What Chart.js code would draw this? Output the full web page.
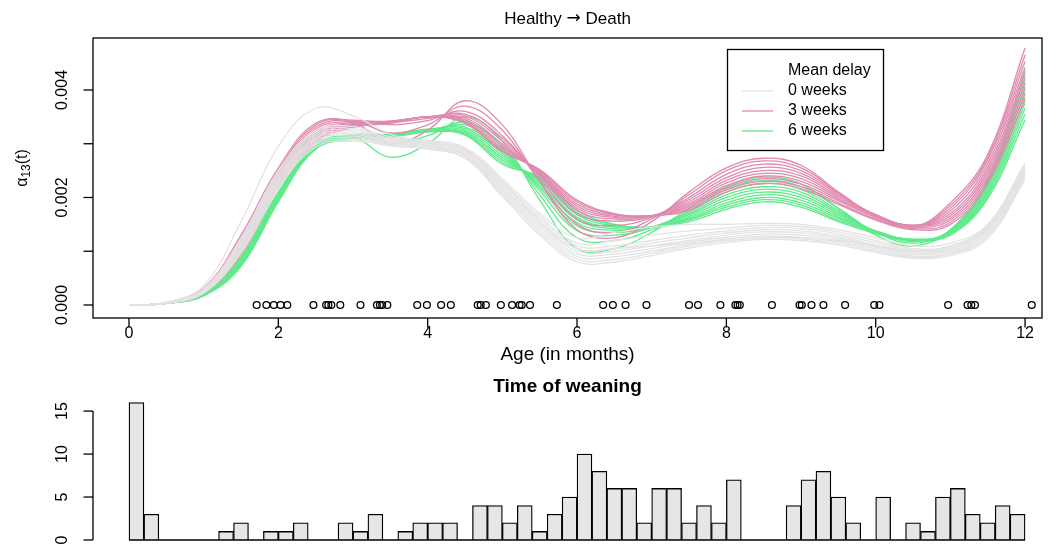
<!DOCTYPE html>
<html>
<head>
<meta charset="utf-8">
<script src="https://cdn.jsdelivr.net/npm/chart.js@4"></script>
<style>
  html, body { margin: 0; padding: 0; background: #fff; }
  #wrap { position: relative; width: 1057px; height: 547px; }
  canvas { position: absolute; left: 0; }
  #top { top: 0; }
  #hist { top: 365px; }
</style>
</head>
<body>
<div id="wrap">
  <canvas id="top" width="1057" height="365"></canvas>
  <canvas id="hist" width="1057" height="182"></canvas>
</div>
<script>
// hazard curves, values in units of 1e-4, read at these ages (months)
const ages = [0, 0.5, 1, 1.5, 2, 2.5, 3, 3.5, 4, 4.5, 5, 5.5, 6, 6.5, 7, 7.5, 8, 8.5, 9, 9.5, 10, 10.5, 11, 11.5, 12];

const delay0 = [
  [0, 0.5, 3.6, 15.5, 29.5, 36.6, 35.2, 31.8, 30.2, 28.8, 23, 15.5, 10.5, 10.5, 11, 11.5, 12, 12.5, 12.5, 12, 11, 10, 10.5, 14, 25],
  [0, 0.4, 3.0, 12.5, 25, 32.5, 33.2, 31.3, 30.6, 29.3, 23.5, 17, 12.5, 13.5, 14.5, 15, 15, 15.2, 15, 14, 12.5, 11, 11.5, 15, 26.4],
  [0, 0.4, 2.9, 12.2, 24.5, 32.2, 32.8, 31, 30.4, 29, 23, 16.5, 11.5, 12, 13, 13.8, 14.3, 14.8, 14.6, 13.6, 12, 10.5, 11, 14.8, 26.2],
  [0, 0.4, 2.8, 11.8, 24, 31.8, 32.4, 30.8, 30.2, 28.8, 22.6, 16, 11, 11, 12, 13, 13.8, 14.4, 14.2, 13.2, 11.6, 10.2, 10.8, 14.5, 25.8],
  [0, 0.4, 2.7, 11.5, 23.6, 31.4, 32, 30.6, 30, 28.6, 22.2, 15.5, 10.5, 10.5, 11.5, 12.5, 13.4, 14, 13.8, 12.8, 11.2, 10, 10.5, 14.2, 25.4],
  [0, 0.4, 2.6, 11.2, 23.2, 31, 31.7, 30.4, 29.8, 28.3, 21.8, 15, 10, 10, 11, 12, 13, 13.6, 13.4, 12.5, 11, 9.7, 10.3, 14, 25],
  [0, 0.3, 2.5, 10.8, 22.8, 30.6, 31.4, 30.2, 29.6, 28, 21.4, 14.5, 9.5, 9.5, 10.5, 11.7, 12.6, 13.2, 13, 12.2, 10.7, 9.4, 10, 13.6, 24.6],
  [0, 0.3, 2.4, 10.4, 22.4, 30.2, 31.1, 30, 29.4, 27.8, 21, 14, 9, 9, 10, 11.3, 12.3, 12.8, 12.6, 11.8, 10.4, 9.1, 9.7, 13.2, 24.2],
  [0, 0.3, 2.3, 10, 22, 29.8, 30.8, 29.8, 29.2, 27.5, 20.6, 13.5, 8.5, 8.5, 9.6, 11, 12, 12.5, 12.3, 11.5, 10.1, 8.9, 9.5, 12.8, 23.8],
  [0, 0.3, 2.2, 9.6, 21.6, 29.4, 30.5, 29.6, 29, 27.3, 20.2, 13, 8, 8, 9.2, 10.6, 11.6, 12.2, 12, 11.2, 9.8, 8.7, 9.2, 12.4, 23.3]
];

const delay3 = [
  [0, 0.4, 3.1, 13, 25.5, 33.8, 34, 30, 32.5, 38, 33.5, 23, 14, 12.5, 15.5, 21, 25.5, 27.3, 26, 21, 16.5, 14.5, 19, 28, 47.8],
  [0, 0.4, 3.0, 12.6, 25, 33.5, 34.3, 32, 33.5, 37, 32.5, 23, 15, 13.5, 16, 20.5, 25, 26.8, 25.5, 21, 16.5, 14.5, 18.5, 27.5, 46.5],
  [0, 0.4, 2.9, 12.2, 24.6, 33.1, 34.4, 33.5, 34.3, 36, 31.5, 23.5, 16, 14.8, 16.3, 20, 24.3, 26.2, 25, 20.8, 16.7, 14.7, 18, 27, 45.3],
  [0, 0.4, 2.8, 11.8, 24.2, 32.7, 34.2, 34, 34.7, 35.5, 31, 24, 17, 15.6, 16.5, 19.6, 23.7, 25.6, 24.5, 20.6, 16.8, 14.8, 17.5, 26.3, 44.2],
  [0, 0.4, 2.7, 11.4, 23.8, 32.3, 34, 34.2, 35, 35.2, 30.5, 24.2, 17.6, 16, 16.6, 19.2, 23.2, 25, 24, 20.3, 16.8, 14.8, 17, 25.6, 43.2],
  [0, 0.4, 2.6, 11, 23.4, 31.9, 33.8, 34.2, 35, 34.8, 30, 24.4, 18, 16.3, 16.6, 18.8, 22.7, 24.5, 23.5, 20, 16.7, 14.8, 16.6, 25, 42.2],
  [0, 0.4, 2.5, 10.6, 23, 31.5, 33.6, 34.1, 35, 34.5, 29.6, 24.6, 18.4, 16.5, 16.6, 18.5, 22.2, 24, 23, 19.7, 16.5, 14.7, 16.2, 24.4, 41.2],
  [0, 0.3, 2.4, 10.2, 22.6, 31.1, 33.4, 34, 35, 34.2, 29.2, 24.8, 18.8, 16.7, 16.6, 18.2, 21.8, 23.5, 22.5, 19.4, 16.3, 14.5, 15.8, 23.8, 40.2],
  [0, 0.3, 2.3, 9.8, 22.2, 30.7, 33.2, 33.9, 35, 34, 28.8, 25, 19.2, 16.9, 16.6, 17.9, 21.4, 23, 22, 19, 16, 14.2, 15.4, 23.2, 39.2],
  [0, 0.3, 2.2, 9.4, 21.8, 30.3, 33, 33.8, 35, 33.8, 28.5, 25.2, 19.5, 17, 16.6, 17.6, 21, 22.6, 21.6, 18.7, 15.8, 14, 15, 22.6, 38.2]
];

const delay6 = [
  [0, 0.3, 2.2, 9, 21, 29.8, 31.2, 27.5, 30, 35, 30.5, 19.5, 10.5, 10.5, 13.5, 18, 22, 23.8, 22.5, 18, 13, 11, 14, 23.5, 43.7],
  [0, 0.3, 2.1, 8.8, 20.8, 29.8, 31.6, 30, 31.5, 34, 29.5, 20.5, 12.5, 12, 14, 17.5, 21.5, 23.2, 22, 18, 13.5, 11.5, 14, 23, 42.6],
  [0, 0.3, 2.1, 8.6, 20.6, 29.7, 31.7, 31.4, 32.3, 33.5, 29, 21.3, 13.8, 13, 14.4, 17.3, 21, 22.6, 21.5, 17.6, 13.6, 11.8, 13.9, 22.6, 41.6],
  [0, 0.3, 2.0, 8.4, 20.4, 29.6, 31.6, 31.7, 32.6, 33.1, 28.6, 21.8, 14.7, 13.5, 14.5, 17, 20.5, 22, 21, 17.3, 13.7, 12, 13.8, 22.2, 40.6],
  [0, 0.3, 2.0, 8.2, 20.2, 29.5, 31.5, 31.8, 32.7, 32.8, 28.2, 22.2, 15.3, 13.9, 14.5, 16.8, 20, 21.5, 20.5, 17, 13.8, 12.1, 13.7, 21.8, 39.6],
  [0, 0.3, 1.9, 8, 20, 29.4, 31.4, 31.7, 32.6, 32.5, 27.8, 22.6, 15.8, 14.2, 14.5, 16.5, 19.5, 21, 20, 16.7, 13.8, 12.2, 13.6, 21.4, 38.6],
  [0, 0.3, 1.9, 7.8, 19.8, 29.3, 31.3, 31.6, 32.5, 32.2, 27.4, 23, 16.3, 14.5, 14.5, 16.2, 19, 20.5, 19.5, 16.4, 13.7, 12.2, 13.5, 21, 37.6],
  [0, 0.3, 1.8, 7.6, 19.6, 29.2, 31.2, 31.5, 32.4, 32, 27, 23.3, 16.8, 14.7, 14.5, 16, 18.6, 20, 19, 16.1, 13.6, 12.2, 13.4, 20.6, 36.6],
  [0, 0.3, 1.8, 7.4, 19.4, 29.1, 31, 31.4, 32.3, 31.8, 26.6, 23.6, 17.2, 14.9, 14.5, 15.8, 18.2, 19.6, 18.6, 15.8, 13.5, 12.1, 13.2, 20.2, 35.5],
  [0, 0.3, 1.7, 7.2, 19.2, 29, 30.8, 31.2, 32.2, 31.6, 26.2, 23.8, 17.6, 15, 14.5, 15.5, 17.8, 19.2, 18.2, 15.5, 13.3, 12, 13, 19.8, 34.4]
];

// observed death ages (open circles on the baseline)
const deathAges = [1.71, 1.84, 1.94, 2.03, 2.12, 2.47, 2.64, 2.67, 2.71, 2.83, 3.10, 3.32, 3.36, 3.39, 3.46,
  3.86, 3.99, 4.18, 4.31, 4.67, 4.71, 4.78, 4.98, 5.13, 5.23, 5.26, 5.37, 5.73, 6.35, 6.48, 6.65, 6.93,
  7.50, 7.62, 7.92, 8.12, 8.15, 8.18, 8.61, 8.98, 9.01, 9.14, 9.30, 9.59, 9.98, 10.05, 10.97, 11.23, 11.28, 11.33, 12.09];

// weaning histogram, bins of 0.2 months
const binMids = [0.1, 0.3, 0.5, 0.7, 0.9, 1.1, 1.3, 1.5, 1.7, 1.9, 2.1, 2.3, 2.5, 2.7, 2.9, 3.1, 3.3, 3.5, 3.7, 3.9,
  4.1, 4.3, 4.5, 4.7, 4.9, 5.1, 5.3, 5.5, 5.7, 5.9, 6.1, 6.3, 6.5, 6.7, 6.9, 7.1, 7.3, 7.5, 7.7, 7.9,
  8.1, 8.3, 8.5, 8.7, 8.9, 9.1, 9.3, 9.5, 9.7, 9.9, 10.1, 10.3, 10.5, 10.7, 10.9, 11.1, 11.3, 11.5, 11.7, 11.9];
const weanCounts = [16, 3, 0, 0, 0, 0, 1, 2, 0, 1, 1, 2, 0, 0, 2, 1, 3, 0, 1, 2, 2, 2, 0, 4, 4, 2, 4, 1, 3, 5,
  10, 8, 6, 6, 2, 6, 6, 2, 4, 2, 7, 0, 0, 0, 4, 7, 8, 5, 2, 0, 5, 0, 2, 1, 5, 6, 3, 2, 4, 3];

const xTicks = [0, 2, 4, 6, 8, 10, 12];
const xTickLabels = ['0', '2', '4', '6', '8', '10', '12'];
const yTicks = [0, 10, 20, 30, 40];
const yTickLabels = ['0.000', '', '0.002', '', '0.004'];
const histTicks = [0, 5, 10, 15];
const histTickLabels = ['0', '5', '10', '15'];
const legendLabels = ['0 weeks', '3 weeks', '6 weeks'];

const FONT = '"Liberation Sans", Arial, Helvetica, sans-serif';
const colors = ['#E3E3E3', '#DF8AAF', '#60EA8B'];

function xy(xs, ys) { return ys.map((v, i) => ({ x: xs[i], y: v })); }
function seg(ctx, x1, y1, x2, y2) { ctx.beginPath(); ctx.moveTo(x1, y1); ctx.lineTo(x2, y2); ctx.stroke(); }
function vText(ctx, s, x, y) { ctx.save(); ctx.translate(x, y); ctx.rotate(-Math.PI / 2); ctx.fillText(s, 0, 0); ctx.restore(); }

// draw a run of [text, font] pieces centred on cx
function runText(ctx, parts, cx, cy) {
  let w = 0;
  parts.forEach(p => { ctx.font = p[1]; w += ctx.measureText(p[0]).width; });
  let x0 = cx - w / 2;
  ctx.textAlign = 'left';
  parts.forEach(p => { ctx.font = p[1]; ctx.fillText(p[0], x0, cy); x0 += ctx.measureText(p[0]).width; });
  ctx.textAlign = 'center';
}

const lineSets = [];
[delay0, delay3, delay6].forEach((group, g) => {
  group.forEach(c => lineSets.push({
    type: 'line', data: xy(ages, c), borderColor: colors[g], borderWidth: 1.3,
    pointRadius: 0, tension: 0.4, fill: false
  }));
});
lineSets.push({
  type: 'scatter', data: deathAges.map(t => ({ x: t, y: 0 })), showLine: false,
  pointRadius: 3.4, borderWidth: 1.3, borderColor: '#000', backgroundColor: 'rgba(0,0,0,0)'
});

const topFrame = {
  id: 'topFrame',
  afterDraw(chart) {
    const { ctx, chartArea: a, scales: { x, y } } = chart;
    ctx.save();
    ctx.strokeStyle = '#000'; ctx.fillStyle = '#000'; ctx.lineWidth = 1.3;
    ctx.strokeRect(a.left, a.top, a.right - a.left, a.bottom - a.top);
    ctx.font = '16px ' + FONT;
    ctx.textAlign = 'center'; ctx.textBaseline = 'middle';
    xTicks.forEach((v, i) => {
      const px = x.getPixelForValue(v);
      seg(ctx, px, a.bottom, px, a.bottom + 9.5);
      ctx.fillText(xTickLabels[i], px, a.bottom + 16);
    });
    yTicks.forEach((v, i) => {
      const py = y.getPixelForValue(v);
      seg(ctx, a.left, py, a.left - 9.5, py);
      if (yTickLabels[i]) vText(ctx, yTickLabels[i], 63, py);
    });
    // titles
    const cx = (a.left + a.right) / 2;
    runText(ctx, [['Healthy ', '17px ' + FONT], ['\u2192', '17px "DejaVu Sans", sans-serif'], [' Death', '17px ' + FONT]], cx, 19);
    ctx.font = '19px ' + FONT;
    ctx.fillText('Age (in months)', cx, 355);
    // y label alpha_13(t)
    ctx.save();
    ctx.translate(23, 168); ctx.rotate(-Math.PI / 2);
    ctx.textAlign = 'left';
    ctx.font = '16px ' + FONT; const w1 = ctx.measureText('\u03b1').width;
    ctx.font = '12px ' + FONT; const w2 = ctx.measureText('13').width;
    ctx.font = '16px ' + FONT; const w3 = ctx.measureText('(t)').width;
    let s = -(w1 + w2 + w3) / 2;
    ctx.fillText('\u03b1', s, 0);
    ctx.font = '12px ' + FONT; ctx.fillText('13', s + w1, 4);
    ctx.font = '16px ' + FONT; ctx.fillText('(t)', s + w1 + w2, 0);
    ctx.restore();
    // legend
    ctx.lineWidth = 1.3;
    ctx.strokeRect(727.5, 49.5, 156, 101);
    ctx.textAlign = 'left';
    ctx.font = '16px ' + FONT;
    ctx.fillText('Mean delay', 788, 71);
    legendLabels.forEach((lab, i) => {
      const ly = 91 + i * 20;
      ctx.strokeStyle = colors[i];
      seg(ctx, 742, ly, 773, ly);
      ctx.fillText(lab, 788, ly);
    });
    ctx.restore();
  }
};

new Chart(document.getElementById('top'), {
  type: 'line',
  data: { datasets: lineSets },
  options: {
    responsive: false, animation: false, devicePixelRatio: 1,
    layout: { padding: { left: 93, right: 15, top: 38, bottom: 47 } },
    scales: {
      x: { type: 'linear', min: -0.482, max: 12.227, display: false },
      y: { type: 'linear', min: -2.42, max: 49.67, display: false }
    },
    plugins: { legend: { display: false }, tooltip: { enabled: false } }
  },
  plugins: [topFrame]
});

const histFrame = {
  id: 'histFrame',
  afterDraw(chart) {
    const { ctx, chartArea: a, scales: { x, y } } = chart;
    ctx.save();
    ctx.strokeStyle = '#000'; ctx.fillStyle = '#000'; ctx.lineWidth = 1.3;
    // baseline under the bars (empty bins)
    seg(ctx, x.getPixelForValue(0), y.getPixelForValue(0), x.getPixelForValue(12), y.getPixelForValue(0));
    seg(ctx, a.left, y.getPixelForValue(histTicks[0]), a.left, y.getPixelForValue(histTicks[histTicks.length - 1]));
    ctx.font = '16px ' + FONT;
    ctx.textAlign = 'center'; ctx.textBaseline = 'middle';
    histTicks.forEach((v, i) => {
      const py = y.getPixelForValue(v);
      seg(ctx, a.left, py, a.left - 9.5, py);
      vText(ctx, histTickLabels[i], 63, py);
    });
    ctx.font = 'bold 19px ' + FONT;
    ctx.fillText('Time of weaning', (a.left + a.right) / 2, 22);
    ctx.restore();
  }
};

new Chart(document.getElementById('hist'), {
  type: 'bar',
  data: {
    datasets: [{
      data: xy(binMids, weanCounts),
      backgroundColor: '#E6E6E6', borderColor: '#000', borderWidth: 1.3,
      barPercentage: 1, categoryPercentage: 1
    }]
  },
  options: {
    responsive: false, animation: false, devicePixelRatio: 1,
    layout: { padding: { left: 93, right: 15, top: 32, bottom: 1.5 } },
    scales: {
      x: { type: 'linear', min: -0.482, max: 12.227, offset: false, display: false },
      y: { type: 'linear', min: -0.64, max: 16.64, display: false }
    },
    plugins: { legend: { display: false }, tooltip: { enabled: false } }
  },
  plugins: [histFrame]
});
</script>
</body>
</html>
